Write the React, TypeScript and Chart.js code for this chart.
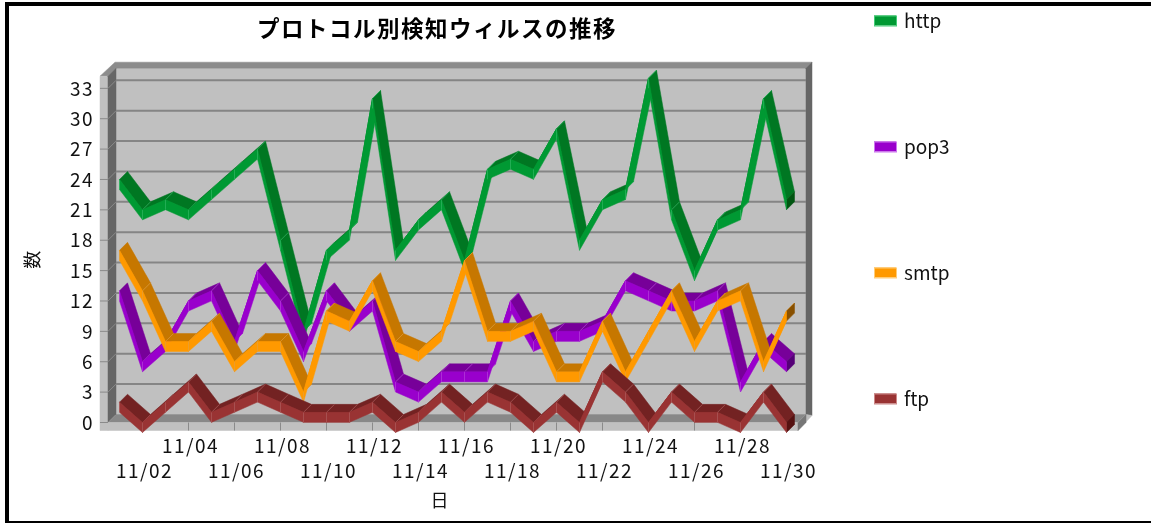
import React, { useEffect, useRef } from "react";
import { Chart, registerables } from "chart.js";

Chart.register(...registerables);

const days = [
  "11/01","11/02","11/03","11/04","11/05","11/06","11/07","11/08","11/09","11/10",
  "11/11","11/12","11/13","11/14","11/15","11/16","11/17","11/18","11/19","11/20",
  "11/21","11/22","11/23","11/24","11/25","11/26","11/27","11/28","11/29","11/30",
];
const http = [24,21,22,21,23,25,27,18,9,17,19,32,17,20,22,16,25,26,25,29,18,22,23,34,21,15,20,21,32,22];
const pop3 = [13,6,8,12,13,8,15,12,7,13,10,12,4,3,5,5,5,12,8,9,9,10,14,13,12,12,13,4,8,6];
const smtp = [17,13,8,8,10,6,8,8,3,11,10,14,8,7,9,16,9,9,10,5,5,10,5,9,13,8,12,13,6,11];
const ftp = [2,0,2,4,1,2,3,2,1,1,1,2,0,1,3,1,3,2,0,2,0,5,3,0,3,1,1,0,3,0];

const FONT = '"Noto Sans CJK JP", sans-serif';
const DEPTH = 8;
const THICK = 10;

const shades: Record<string, { front: string; top: string; cap: string; edge: string; glow: string }> = {
  http: { front: "#009933", top: "#007722", cap: "#005511", edge: "#33bb66", glow: "#44cc77" },
  pop3: { front: "#9900cc", top: "#770099", cap: "#550077", edge: "#bb44dd", glow: "#cc77ee" },
  smtp: { front: "#ff9900", top: "#c67700", cap: "#885000", edge: "#e0a040", glow: "#ffcc77" },
  ftp: { front: "#993333", top: "#732222", cap: "#551111", edge: "#b06060", glow: "#cc8888" },
};

type P = [number, number];
function poly(ctx: CanvasRenderingContext2D, pts: P[], fill: string) {
  ctx.beginPath();
  pts.forEach((p, i) => (i ? ctx.lineTo(p[0], p[1]) : ctx.moveTo(p[0], p[1])));
  ctx.closePath();
  ctx.fillStyle = fill;
  ctx.fill();
  ctx.strokeStyle = fill;
  ctx.lineWidth = 0.5;
  ctx.stroke();
}
function seg(ctx: CanvasRenderingContext2D, a: P, b: P, color: string, w = 1) {
  ctx.beginPath();
  ctx.moveTo(a[0], a[1]);
  ctx.lineTo(b[0], b[1]);
  ctx.strokeStyle = color;
  ctx.lineWidth = w;
  ctx.stroke();
}

const stage = {
  id: "stage",
  beforeDatasetsDraw(chart: any) {
    const { ctx, chartArea, scales } = chart;
    const { left: L, right: R, top: T, bottom: B } = chartArea;
    const d = DEPTH;
    ctx.save();
    poly(ctx, [[L + d, T - d], [R + d, T - d], [R + d, B - d], [L + d, B - d]], "#c0c0c0");
    poly(ctx, [[L - 8, T], [L + d - 1, T - d - 6], [R + d + 6, T - d - 6], [R + d, T - d], [L + d, T - d], [L, T]], "#8c8c8c");
    poly(ctx, [[L - 8, T], [L, T], [L, B + d], [L - 8, B + d]], "#c0c0c0");
    poly(ctx, [[L, T], [L + d, T - d], [L + d, B - d], [L, B]], "#666666");
    poly(ctx, [[R + d, T - d], [R + d + 6, T - d - 6], [R + d + 6, B - d + 1], [R + d, B - d]], "#666666");
    poly(ctx, [[L, B], [L + d, B - d], [R + d, B - d], [R, B]], "#888888");
    poly(ctx, [[L, B], [R, B], [R, B + d], [L, B + d]], "#c0c0c0");
    poly(ctx, [[R, B], [R + d, B - d], [R + d + 6, B - d + 1], [R, B + d]], "#bdbdbd");
    poly(ctx, [[R, B], [R + d, B - d], [R + d, B + 0], [R, B + d]], "#777777");

    scales.y.ticks.forEach((t: any) => {
      const y = scales.y.getPixelForValue(t.value);
      if (t.value > 0) {
        seg(ctx, [L + d, y - d], [R + d, y - d], "#858585", 2);
        seg(ctx, [L, y], [L + d, y - d], "#8a8a8a", 1);
      }
      seg(ctx, [L - 8, y], [L, y], "#8a8a8a", 1);
    });
    scales.x.ticks.forEach((_t: any, i: number) => {
      if (i % 2 === 1) {
        const x = scales.x.getPixelForTick(i);
        seg(ctx, [x, B], [x, B + d], "#8a8a8a", 1);
      }
    });
    ctx.restore();
  },
};

const ribbons = {
  id: "ribbons",
  afterDatasetsDraw(chart: any) {
    const { ctx } = chart;
    const d = DEPTH;
    const h = THICK;
    ctx.save();
    chart.data.datasets.forEach((ds: any, di: number) => {
      const pts = chart.getDatasetMeta(di).data as any[];
      const c = shades[ds.label];
      for (let i = 0; i < pts.length - 1; i++) {
        const a = pts[i];
        const b = pts[i + 1];
        const steepRise = a.y - b.y > b.x - a.x;
        poly(ctx, [[a.x, a.y], [a.x + d, a.y - d], [b.x + d, b.y - d], [b.x, b.y]], steepRise ? c.front : c.top);
        if (i > 0) seg(ctx, [a.x, a.y], [a.x + d, a.y - d], c.edge, 0.6);
      }
      const e = pts[pts.length - 1];
      poly(ctx, [[e.x, e.y], [e.x + d, e.y - d], [e.x + d, e.y - d + h], [e.x, e.y + h]], c.cap);
      for (let i = 0; i < pts.length - 1; i++) {
        const a = pts[i];
        const b = pts[i + 1];
        poly(ctx, [[a.x, a.y], [b.x, b.y], [b.x, b.y + h], [a.x, a.y + h]], c.front);
        seg(ctx, [a.x, a.y], [a.x, a.y + h], c.edge, 0.6);
      }
    });
    ctx.restore();
  },
};

const key = {
  id: "key",
  afterDraw(chart: any) {
    const { ctx } = chart;
    ctx.save();
    ctx.letterSpacing = "0px";
    ctx.textAlign = "left";
    ctx.textBaseline = "middle";
    ctx.font = `19px ${FONT}`;
    chart.data.datasets.forEach((ds: any, i: number) => {
      const y = 20.5 + i * 126;
      const c = shades[ds.label];
      ctx.fillStyle = c.front;
      ctx.fillRect(874, y - 5, 22, 10);
      ctx.strokeStyle = c.glow;
      ctx.lineWidth = 1;
      ctx.strokeRect(874.5, y - 4.5, 22, 10);
      ctx.fillStyle = "#111111";
      ctx.fillText(ds.label, 904, y);
    });
    ctx.restore();
  },
};

const frame = {
  id: "frame",
  beforeDraw(chart: any) {
    const { ctx, width, height } = chart;
    ctx.letterSpacing = "1.5px";
    ctx.save();
    ctx.fillStyle = "#ffffff";
    ctx.fillRect(0, 0, width, height);
    ctx.strokeStyle = "#000000";
    ctx.lineWidth = 4;
    ctx.strokeRect(7, 4, width, height - 4);
    ctx.restore();
  },
};

function series(label: string, data: number[]) {
  return {
    label,
    data,
    borderColor: shades[label].front,
    backgroundColor: shades[label].front,
    borderWidth: 1,
    pointRadius: 0,
    tension: 0,
  };
}

export default function App() {
  const ref = useRef<HTMLCanvasElement | null>(null);
  useEffect(() => {
    if (!ref.current) return;
    const chart = new Chart(ref.current, {
      type: "line",
      data: {
        labels: days,
        datasets: [series("http", http), series("pop3", pop3), series("smtp", smtp), series("ftp", ftp)],
      },
      options: {
        animation: false,
        responsive: false,
        layout: { padding: { left: 0, right: 277, top: 0, bottom: 0 } },
        plugins: {
          legend: { display: false },
          tooltip: { enabled: false },
          title: {
            display: true,
            text: "プロトコル別検知ウィルスの推移",
            color: "#000000",
            font: { family: FONT, size: 22.5, weight: "bold" },
            padding: { top: 15, bottom: 34.2 },
          },
        },
        scales: {
          x: {
            type: "category",
            offset: true,
            grid: { display: false },
            border: { display: false },
            afterFit: (s: any) => { s.height = 100.5; },
            ticks: {
              autoSkip: false,
              maxRotation: 0,
              minRotation: 0,
              padding: 3,
              labelOffset: 2,
              color: "#111111",
              font: { family: FONT, size: 19, lineHeight: 1.32 },
              callback: (_v: any, i: number) => {
                if (i % 2 === 0) return "";
                return i % 4 === 3 ? [days[i], ""] : ["", days[i]];
              },
            },
            title: {
              display: true,
              text: "日\u3000\u2005",
              color: "#111111",
              font: { family: FONT, size: 18 },
              padding: { top: 0, bottom: 12 },
            },
          },
          y: {
            type: "linear",
            min: 0,
            max: 34.2,
            grid: { display: false, drawTicks: false },
            border: { display: false },
            afterFit: (s: any) => { s.width = 108; },
            ticks: {
              stepSize: 3,
              includeBounds: false,
              padding: 14,
              color: "#111111",
              font: { family: FONT, size: 19 },
            },
            title: {
              display: true,
              text: "数\u3000",
              color: "#111111",
              font: { family: FONT, size: 18 },
              padding: { top: 21, bottom: 0 },
            },
          },
          gutter: {
            type: "linear",
            position: "right",
            display: true,
            grid: { display: false },
            border: { display: false },
            ticks: { display: false },
            afterFit: (s: any) => { s.width = 76; },
          },
        },
      },
      plugins: [frame, stage, ribbons, key],
    } as any);
    return () => chart.destroy();
  }, []);
  return (
    <canvas
      ref={ref}
      width={1151}
      height={523}
      style={{ position: "absolute", left: 0, top: 0, display: "block" }}
    />
  );
}
